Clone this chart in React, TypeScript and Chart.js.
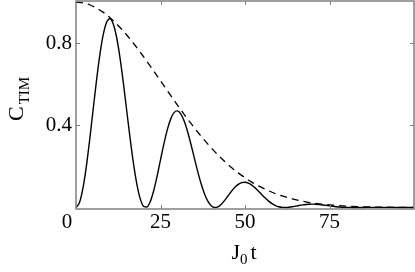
import React, { useEffect, useRef } from "react";
import { Chart, registerables } from "chart.js";

Chart.register(...registerables);

// Solid curve C_TIM(J0 t)
const T_SOLID = [
  0, 1, 2, 3, 4, 5, 6, 7, 8, 9,
  10, 11, 12, 13, 14, 15, 16, 17, 18, 19,
  20, 21, 22, 23, 24, 25, 26, 27, 28, 29,
  30, 31, 32, 33, 34, 35, 36, 37, 38, 39,
  40, 41, 42, 43, 44, 45, 46, 47, 48, 49,
  50, 51, 52, 53, 54, 55, 56, 57, 58, 59,
  60, 61, 62, 63, 64, 65, 66, 67, 68, 69,
  70, 71, 72, 73, 74, 75, 76, 77, 78, 79,
  80, 82, 84, 86, 88, 90, 92, 94, 96, 98, 100,
];
const C_SOLID = [
  0, 0.0231, 0.0899, 0.1937, 0.3239, 0.4675, 0.61, 0.7375, 0.837, 0.8997,
  0.9197, 0.8956, 0.8307, 0.7315, 0.6086, 0.4729, 0.338, 0.2151, 0.1144, 0.0435,
  0.006, 0.0026, 0.0302, 0.0832, 0.1535, 0.2322, 0.3098, 0.3783, 0.4307, 0.4622,
  0.4707, 0.4563, 0.4214, 0.3703, 0.3085, 0.2418, 0.1763, 0.1169, 0.0676, 0.0313,
  0.009, 0.0002, 0.0035, 0.0162, 0.0353, 0.0575, 0.0795, 0.0986, 0.113, 0.1214,
  0.1232, 0.1189, 0.1094, 0.0958, 0.0797, 0.0627, 0.0463, 0.0315, 0.0193, 0.01,
  0.0039, 0.0007, 0.0, 0.0013, 0.0038, 0.007, 0.0102, 0.013, 0.0151, 0.0163,
  0.0165, 0.0159, 0.0145, 0.0127, 0.0105, 0.0083, 0.0062, 0.0043, 0.0027, 0.0015,
  0.0007, 0.0, 0.0002, 0.0007, 0.001, 0.0011, 0.001, 0.0007, 0.0004, 0.0002, 0.0001,
];

// Dashed envelope
const T_ENV = [
  0, 2, 4, 6, 8, 10, 12, 14, 16, 18, 20, 22, 24, 26, 28, 30, 32, 34, 36, 38,
  40, 42, 44, 46, 48, 50, 52, 54, 56, 58, 60, 62, 64, 66, 68, 70, 72, 74, 76, 78,
  80, 84, 88, 92, 96, 100,
];
const C_ENV = [
  1, 0.9969, 0.9877, 0.9726, 0.9518, 0.9257, 0.8948, 0.8597, 0.8208, 0.7788,
  0.7345, 0.6883, 0.6412, 0.5936, 0.5461, 0.4994, 0.4538, 0.4098, 0.3679, 0.3282,
  0.291, 0.2564, 0.2245, 0.1954, 0.169, 0.1453, 0.1241, 0.1054, 0.0889, 0.0746,
  0.0622, 0.0515, 0.0424, 0.0347, 0.0282, 0.0228, 0.0183, 0.0146, 0.0116, 0.0091,
  0.0072, 0.0043, 0.0025, 0.0015, 0.0008, 0.0004,
];

const X_TICKS = [0, 25, 50, 75];
const Y_TICKS = [0.4, 0.8];
const X_TITLE = ["J", "0", "t"];
const Y_TITLE = ["C", "TIM"];

const FRAME = "#808080";
const SERIF = '"Liberation Serif", "Times New Roman", "DejaVu Serif", serif';

const framePlugin = {
  id: "frameAndTitles",
  afterDraw(chart: any) {
    const { ctx, chartArea: a, scales } = chart;
    const xs = scales.x;
    const ys = scales.y;
    ctx.save();
    // frame
    ctx.strokeStyle = FRAME;
    ctx.lineWidth = 1.5;
    ctx.strokeRect(a.left, a.top, a.right - a.left, a.bottom - a.top);
    // inward ticks
    ctx.lineWidth = 1;
    const L = 4;
    ctx.beginPath();
    for (const v of X_TICKS) {
      if (v === 0) continue;
      const px = Math.round(xs.getPixelForValue(v)) + 0.5;
      ctx.moveTo(px, a.bottom);
      ctx.lineTo(px, a.bottom - L);
      ctx.moveTo(px, a.top);
      ctx.lineTo(px, a.top + L);
    }
    for (const v of Y_TICKS) {
      const py = Math.round(ys.getPixelForValue(v)) + 0.5;
      ctx.moveTo(a.left, py);
      ctx.lineTo(a.left + L, py);
      ctx.moveTo(a.right, py);
      ctx.lineTo(a.right - L, py);
    }
    ctx.stroke();

    ctx.fillStyle = "#000";
    // origin label
    ctx.font = `21px ${SERIF}`;
    ctx.textAlign = "center";
    ctx.textBaseline = "alphabetic";
    ctx.fillText(String(X_TICKS[0]), xs.getPixelForValue(0) - 9, 228);

    // x title J_0 t
    ctx.textAlign = "left";
    const cx = (a.left + a.right) / 2;
    ctx.font = `22px ${SERIF}`;
    const w0 = ctx.measureText(X_TITLE[0]).width;
    ctx.font = `15px ${SERIF}`;
    const w1 = ctx.measureText(X_TITLE[1]).width;
    ctx.font = `22px ${SERIF}`;
    const w2 = ctx.measureText(X_TITLE[2]).width;
    const total = w0 + w1 + 3 + w2;
    let x0 = cx - total / 2 - 1;
    const base = 259;
    ctx.fillText(X_TITLE[0], x0, base);
    x0 += w0;
    ctx.font = `15px ${SERIF}`;
    ctx.fillText(X_TITLE[1], x0, base + 5);
    x0 += w1 + 3;
    ctx.font = `22px ${SERIF}`;
    ctx.fillText(X_TITLE[2], x0, base);

    // y title C_TIM (rotated)
    ctx.translate(23, 121);
    ctx.rotate(-Math.PI / 2);
    ctx.font = `22px ${SERIF}`;
    ctx.fillText(Y_TITLE[0], 0, 0);
    const wc = ctx.measureText(Y_TITLE[0]).width;
    ctx.font = `15px ${SERIF}`;
    ctx.fillText(Y_TITLE[1], wc + 2, 6);
    ctx.restore();
  },
};

export default function App() {
  const ref = useRef<HTMLCanvasElement | null>(null);
  useEffect(() => {
    let chart: Chart | null = null;
    let cancelled = false;
    const build = () => {
      if (cancelled || !ref.current) return;
      chart = new Chart(ref.current, {
        type: "line",
        data: {
          datasets: [
            {
              data: T_ENV.map((t, i) => ({ x: t, y: C_ENV[i] })),
              borderColor: "#000",
              borderWidth: 1.3,
              borderDash: [7, 5],
              pointRadius: 0,
              cubicInterpolationMode: "monotone",
            },
            {
              data: T_SOLID.map((t, i) => ({ x: t, y: C_SOLID[i] })),
              borderColor: "#000",
              borderWidth: 1.4,
              pointRadius: 0,
              cubicInterpolationMode: "monotone",
            },
          ],
        },
        options: {
          responsive: false,
          animation: false,
          layout: { padding: { left: 0, right: 1, top: 1, bottom: 0 } },
          plugins: { legend: { display: false }, tooltip: { enabled: false } },
          scales: {
            x: {
              type: "linear",
              min: 0,
              max: 100,
              grid: { display: false, drawTicks: false },
              border: { display: false },
              afterBuildTicks: (s: any) => {
                s.ticks = X_TICKS.map((v) => ({ value: v }));
              },
              afterFit: (s: any) => {
                s.height = 63;
                s.paddingLeft = 0;
                s.paddingRight = 0;
              },
              ticks: {
                color: "#000",
                padding: 1,
                maxRotation: 0,
                font: { family: SERIF, size: 21 },
                callback: (v: any) => (v === 0 ? "" : String(v)),
              },
            },
            y: {
              type: "linear",
              min: -0.007,
              max: 1.006,
              grid: { display: false, drawTicks: false },
              border: { display: false },
              afterBuildTicks: (s: any) => {
                s.ticks = Y_TICKS.map((v) => ({ value: v }));
              },
              afterFit: (s: any) => {
                s.width = 76;
                s.paddingTop = 0;
                s.paddingBottom = 0;
              },
              ticks: {
                color: "#000",
                padding: 4,
                font: { family: SERIF, size: 21 },
                callback: (v: any) => String(v),
              },
            },
          },
        },
        plugins: [framePlugin],
      });
    };
    const fonts: any = (document as any).fonts;
    if (fonts && fonts.load) {
      Promise.all([
        fonts.load('21px "Liberation Serif"'),
        fonts.load('15px "Liberation Serif"'),
      ])
        .catch(() => null)
        .then(build);
    } else {
      build();
    }
    return () => {
      cancelled = true;
      if (chart) chart.destroy();
    };
  }, []);
  return (
    <div style={{ position: "absolute", left: 0, top: 0, width: 415, height: 272, background: "#fff" }}>
      <span style={{ fontFamily: SERIF, position: "absolute", left: -1000, top: 0 }}>0.8</span>
      <canvas ref={ref} width={415} height={272} />
    </div>
  );
}
